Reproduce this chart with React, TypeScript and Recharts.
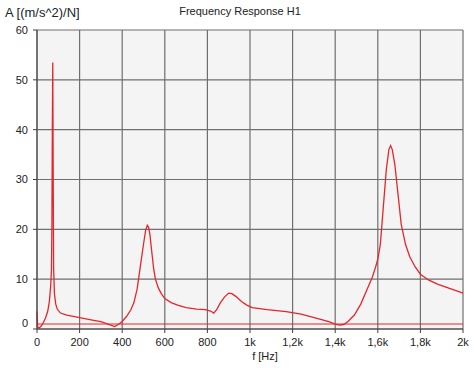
import * as React from "react";
import { CartesianGrid, Line, LineChart, ReferenceLine, XAxis, YAxis } from "recharts";

// frequency [Hz] and amplitude A [(m/s^2)/N]
const freqs = [
  0, 3, 10, 20, 30, 40, 50, 58, 64, 68, 70, 72, 74, 76, 78, 82, 88, 95, 110, 140,
  200, 260, 300, 340, 365, 385, 400, 420, 440, 455, 470, 485, 500, 510, 518, 524, 530, 538, 548, 556,
  570, 585, 600, 630, 660, 700, 750, 790, 815, 830, 845, 860, 880, 900, 915, 935, 960, 985, 1010, 1080,
  1170, 1240, 1310, 1370, 1400, 1420, 1440, 1460, 1490, 1520, 1550, 1575, 1590, 1600, 1612, 1625, 1640, 1652, 1660, 1668,
  1680, 1695, 1710, 1730, 1750, 1775, 1800, 1840, 1880, 1920, 1960, 2000,
];
const amplitude = [
  3.5, 0.4, 0.2, 0.6, 1.3, 2.2, 3.5, 5.5, 8.5, 12, 21, 40, 53.5, 31, 12, 7, 5, 4, 3.2, 2.8,
  2.3, 1.8, 1.5, 0.9, 0.5, 1.0, 1.5, 2.5, 3.8, 5.3, 8, 12.5, 17, 19.8, 20.8, 20.4, 19, 15.8, 12, 10,
  8.2, 7, 6.1, 5.3, 4.8, 4.3, 4.0, 3.9, 3.6, 3.2, 4.0, 5.2, 6.4, 7.2, 7.1, 6.5, 5.5, 4.8, 4.3, 3.9,
  3.5, 3.0, 2.2, 1.5, 1.0, 0.8, 0.9, 1.5, 2.8, 5, 8, 10.5, 12.5, 14, 17, 24, 32, 36, 36.8, 36,
  33, 27, 21, 17, 14.5, 12.5, 11, 9.8, 9.0, 8.4, 7.8, 7.2,
];
const xTicks = [0, 200, 400, 600, 800, 1000, 1200, 1400, 1600, 1800, 2000];
const yTicks = [0, 10, 20, 30, 40, 50, 60];
const thresholdLevel = 1;

const data = freqs.map((f, i) => ({ f, a: amplitude[i] }));

const fmtHz = (v: number) => (v < 1000 ? String(v) : String(v / 1000).replace(".", ",") + "k");

const font = "'Liberation Sans', Arial, sans-serif";
const tickStyle = { fontSize: 11, fill: "#222", fontFamily: font };

// the "0" label sits a little above its tick in the original
const YTick = (props: any) => {
  const { x, y, payload } = props;
  const shift = payload.value === 0 ? -6 : 0;
  return (
    <text x={x} y={y + shift} dy="0.355em" textAnchor="end" fontSize={11} fill="#222" fontFamily={font}>
      {payload.value}
    </text>
  );
};

export default function App() {
  return (
    <div style={{ position: "absolute", left: 0, top: 0, width: 474, height: 368, background: "#fff", fontFamily: font }}>
      <div style={{ position: "absolute", left: 5, top: 5, fontSize: 13, color: "#222" }}>A [(m/s^2)/N]</div>
      <div style={{ position: "absolute", left: 140, width: 200, top: 5, fontSize: 11, color: "#222", textAlign: "center" }}>
        Frequency Response H1
      </div>
      <div style={{ position: "absolute", left: 215, width: 100, top: 350, fontSize: 11, color: "#222", textAlign: "center" }}>
        f [Hz]
      </div>
      <LineChart width={474} height={368} data={data} margin={{ top: 30, right: 11, bottom: 17, left: 0 }}>
        <CartesianGrid fill="#f4f4f4" stroke="#6f6f6f" strokeWidth={1.2} horizontalValues={yTicks} verticalValues={xTicks} />
        <XAxis
          dataKey="f"
          type="number"
          domain={[0, 2000]}
          ticks={xTicks}
          tickFormatter={fmtHz}
          height={22}
          tickSize={4}
          tickMargin={5}
          tick={tickStyle}
          stroke="#404040"
        />
        <YAxis
          type="number"
          domain={[0, 60]}
          ticks={yTicks}
          width={37}
          tickSize={4}
          tickMargin={5}
          tick={<YTick />}
          stroke="#404040"
        />
        <ReferenceLine y={thresholdLevel} stroke="#e4262c" strokeWidth={1} />
        <Line
          type="linear"
          dataKey="a"
          stroke="#e4262c"
          strokeWidth={1.3}
          dot={false}
          isAnimationActive={false}
        />
      </LineChart>
    </div>
  );
}
